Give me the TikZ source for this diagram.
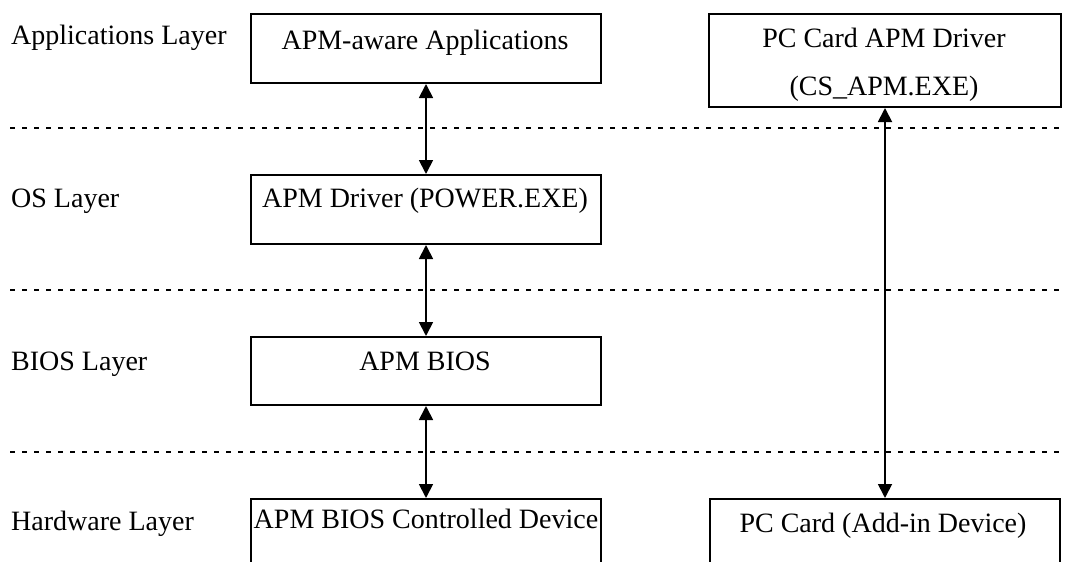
\documentclass[tikz,border=0pt]{standalone}
\usepackage{fontspec}
\setmainfont{Liberation Serif}
\usetikzlibrary{arrows.meta}
\begin{document}
\begin{tikzpicture}[x=1pt,y=-1pt,
  box/.style={draw, line width=2pt, minimum width=350pt, anchor=north west, inner sep=0pt},
  lbl/.style={font=\fontsize{28}{34}\selectfont, anchor=base, inner sep=0pt},
  layer/.style={font=\fontsize{28}{34}\selectfont, anchor=base west, inner sep=0pt},
  sep/.style={line width=2pt, dash pattern=on 5pt off 7pt},
  link/.style={line width=1.8pt, {Triangle[length=14pt,width=14pt]}-{Triangle[length=14pt,width=14pt]}}]
\useasboundingbox (0,0) rectangle (1069,562);
\clip (0,0) rectangle (1069,562);
% boxes
\node[box, minimum height=69pt] (app) at (250,13) {};
\node[box, minimum width=352pt, minimum height=93pt] (pcd) at (708,13) {};
\node[box, minimum height=69pt] (drv) at (250,174) {};
\node[box, minimum height=68pt] (bios) at (250,336) {};
\node[box, minimum height=100pt] (dev) at (250,498) {};
\node[box, minimum height=100pt] (card) at (709,498) {};
% box texts
\node[lbl] (tapp) at (425,49) {APM-aware Applications};
\node[lbl] (tpcd1) at (884,47) {PC Card APM Driver};
\node[lbl] (tpcd2) at (884,95) {(CS\_APM.EXE)};
\node[lbl] (tdrv) at (425,207) {APM Driver (POWER.EXE)};
\node[lbl] (tbios) at (425,370) {APM BIOS};
\node[lbl] (tdev) at (426,528) {APM BIOS Controlled Device};
\node[lbl] (tcard) at (883,532) {PC Card (Add-in Device)};
% layer labels
\node[layer] (l1) at (11,45) {Applications Layer};
\node[layer] (l2) at (11,207) {OS Layer};
\node[layer] (l3) at (11,370) {BIOS Layer};
\node[layer] (l4) at (11,530) {Hardware Layer};
% separators
\draw[sep] (10,128) -- (1064,128);
\draw[sep] (10,290) -- (1064,290);
\draw[sep] (10,452) -- (1064,452);
% connectors
\draw[link] (app.south) -- (drv.north);
\draw[link] (drv.south) -- (bios.north);
\draw[link] (bios.south) -- (dev.north);
\draw[link] (pcd.south) -- (card.north);
\end{tikzpicture}
\end{document}
